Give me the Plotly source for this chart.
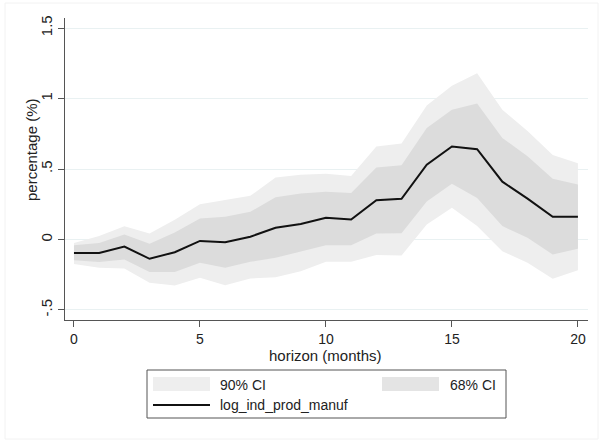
import plotly.graph_objects as go

horizon = list(range(21))
irf = [-0.095, -0.095, -0.05, -0.137, -0.09, -0.01, -0.02, 0.02, 0.083, 0.11, 0.154,
       0.142, 0.279, 0.289, 0.53, 0.66, 0.64, 0.41, 0.29, 0.161, 0.161]
ci68_upper = [-0.04, -0.024, 0.035, -0.03, 0.05, 0.149, 0.162, 0.196, 0.30, 0.326, 0.338,
              0.33, 0.51, 0.527, 0.79, 0.92, 0.965, 0.72, 0.59, 0.43, 0.39]
ci68_lower = [-0.147, -0.16, -0.142, -0.23, -0.23, -0.165, -0.2, -0.158, -0.13, -0.083, -0.04,
              -0.04, 0.043, 0.045, 0.27, 0.395, 0.295, 0.095, 0.012, -0.106, -0.066]
ci90_upper = [-0.024, 0.024, 0.094, 0.043, 0.14, 0.25, 0.28, 0.31, 0.44, 0.46, 0.466,
              0.45, 0.66, 0.68, 0.95, 1.09, 1.18, 0.92, 0.77, 0.60, 0.54]
ci90_lower = [-0.173, -0.2, -0.205, -0.307, -0.326, -0.272, -0.324, -0.277, -0.267, -0.225, -0.158,
              -0.158, -0.11, -0.113, 0.106, 0.225, 0.095, -0.083, -0.165, -0.279, -0.218]

ytick_vals = [-0.5, 0, 0.5, 1, 1.5]
ytick_text = ["-.5", "0", ".5", "1", "1.5"]
xtick_vals = [0, 5, 10, 15, 20]

c90 = "#eeeeee"
c68 = "#dcdcdc"
font = "Liberation Sans, Arial, sans-serif"

fig = go.Figure()
fig.add_trace(go.Scatter(x=horizon, y=ci90_upper, mode="lines", line=dict(width=0, color=c90),
                         showlegend=False, hoverinfo="skip"))
fig.add_trace(go.Scatter(x=horizon, y=ci90_lower, mode="lines", line=dict(width=0, color=c90),
                         fill="tonexty", fillcolor=c90, name="90% CI", showlegend=False))
fig.add_trace(go.Scatter(x=horizon, y=ci68_upper, mode="lines", line=dict(width=0, color=c68),
                         showlegend=False, hoverinfo="skip"))
fig.add_trace(go.Scatter(x=horizon, y=ci68_lower, mode="lines", line=dict(width=0, color=c68),
                         fill="tonexty", fillcolor=c68, name="68% CI", showlegend=False))
fig.add_trace(go.Scatter(x=horizon, y=irf, mode="lines", line=dict(width=2, color="#111111"),
                         name="log_ind_prod_manuf", showlegend=False))

L, R, T, B = 65, 12, 18, 120
W, H = 600, 440
pw, ph = W - L - R, H - T - B

def px(x):
    return (x - L) / pw

def py(y):
    return (H - B - y) / ph

shapes = []
annotations = []
# outer frame
shapes.append(dict(type="rect", xref="paper", yref="paper", x0=px(5), x1=px(598), y0=py(439), y1=py(3),
                   line=dict(color="#f2f2f2", width=1), fillcolor="rgba(0,0,0,0)", layer="below"))
# legend box
shapes.append(dict(type="rect", xref="paper", yref="paper", x0=px(147), x1=px(506), y0=py(418), y1=py(370),
                   line=dict(color="#555555", width=1), fillcolor="white"))
shapes.append(dict(type="rect", xref="paper", yref="paper", x0=px(153), x1=px(210), y0=py(391), y1=py(377),
                   line=dict(width=0), fillcolor=c90))
shapes.append(dict(type="rect", xref="paper", yref="paper", x0=px(382), x1=px(439), y0=py(391), y1=py(377),
                   line=dict(width=0), fillcolor="#e4e4e4"))
shapes.append(dict(type="line", xref="paper", yref="paper", x0=px(153), x1=px(210), y0=py(405), y1=py(405),
                   line=dict(color="#111111", width=2)))
for txt, xx, yy in [("90% CI", 218, 385), ("68% CI", 448, 385), ("log_ind_prod_manuf", 218, 405)]:
    annotations.append(dict(text=txt, xref="paper", yref="paper", x=px(xx), y=py(yy), xanchor="left",
                            yanchor="middle", showarrow=False, font=dict(family=font, size=14, color="#222")))
annotations.append(dict(text="percentage (%)", xref="paper", yref="paper", x=px(31), y=py(150),
                        textangle=-90, showarrow=False, xanchor="center", yanchor="middle",
                        font=dict(family=font, size=15, color="#222")))
annotations.append(dict(text="horizon (months)", xref="paper", yref="paper", x=px(325), y=py(355),
                        showarrow=False, xanchor="center", yanchor="middle",
                        font=dict(family=font, size=15, color="#222")))

fig.update_layout(
    width=W, height=H, margin=dict(l=L, r=R, t=T, b=B),
    paper_bgcolor="white", plot_bgcolor="white",
    font=dict(family=font, size=14, color="#222"),
    shapes=shapes, annotations=annotations, showlegend=False,
    xaxis=dict(range=[-0.356, 20.4], tickvals=xtick_vals, ticks="outside", ticklen=6,
               tickcolor="#555", showline=True, linecolor="#555", linewidth=1,
               showgrid=False, zeroline=False, tickfont=dict(size=14)),
    yaxis=dict(range=[-0.571, 1.571], tickvals=ytick_vals, ticktext=ytick_text, ticks="outside",
               ticklen=6, tickcolor="#555", showline=True, linecolor="#555", linewidth=1,
               showgrid=True, gridcolor="#e9f1f2", gridwidth=1, zeroline=False,
               tickangle=-90, tickfont=dict(size=15)),
)
fig.write_html("out.html")
